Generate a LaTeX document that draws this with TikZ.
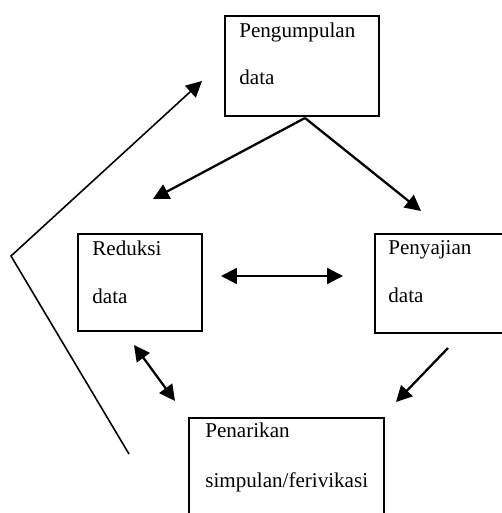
\documentclass[tikz,border=0pt]{standalone}
\usepackage{fontspec}
\setmainfont{Liberation Serif}
\usetikzlibrary{arrows.meta,positioning}

\begin{document}
\begin{tikzpicture}[
    x=0.02cm, y=-0.02cm,
    box/.style={draw, line width=1.3pt, inner sep=0pt},
    boxtext/.style={anchor=base west, inner sep=0pt, align=left,
      font=\fontsize{12pt}{27.2pt}\selectfont},
    flow/.style={line width=1.3pt, -{Triangle[length=9pt, width=9pt]}},
    both/.style={line width=1.3pt, {Triangle[length=9pt, width=9pt]}-{Triangle[length=9pt, width=9pt]}}
  ]
  \useasboundingbox (0,0) rectangle (502,513);
  \clip (0,0) rectangle (502,513);

  % kotak
  \node[box, minimum width=3.08cm, minimum height=2cm] (collect) at (302,66) {};
  \node[box, minimum width=2.48cm, minimum height=1.94cm] (reduce) at (140,282.5) {};
  \node[box, minimum width=2.9cm, minimum height=1.98cm] (present) at (447.5,283.5) {};
  \node[box, minimum width=3.9cm, minimum height=2.44cm] (conclude) at (286.5,479) {};

  % baseline baris terakhir
  \node[boxtext] (collect-text) at (239,85) {Pengumpulan\\data};
  \node[boxtext] (reduce-text) at (92,303) {Reduksi\\data};
  \node[boxtext] (present-text) at (388,302) {Penyajian\\data};
  \node[boxtext, font=\fontsize{12pt}{28.3pt}\selectfont] (conclude-text) at (205,487) {Penarikan\\simpulan/ferivikasi};

  % ujung panah
  \coordinate (apex) at (305,118);
  \coordinate (to-reduce) at (153,199);
  \coordinate (to-present) at (421,211);
  \coordinate (mid-left) at (221,276);
  \coordinate (mid-right) at (343,276);
  \coordinate (diag-top) at (134,345);
  \coordinate (diag-bottom) at (175,401);
  \coordinate (down-start) at (448,348);
  \coordinate (down-end) at (396,402);
  \coordinate (loop-start) at (129,454);
  \coordinate (loop-corner) at (11,256);
  \coordinate (loop-end) at (202,81);

  \draw[flow] (apex) -- (to-reduce);
  \draw[flow] (apex) -- (to-present);
  \draw[both] (mid-left) -- (mid-right);
  \draw[both] (diag-top) -- (diag-bottom);
  \draw[flow] (down-start) -- (down-end);
  \draw[
    line width=0.9pt,
    -{Triangle[length=9pt, width=9pt]}
  ] (loop-start) -- (loop-corner) -- (loop-end);
\end{tikzpicture}
\end{document}
